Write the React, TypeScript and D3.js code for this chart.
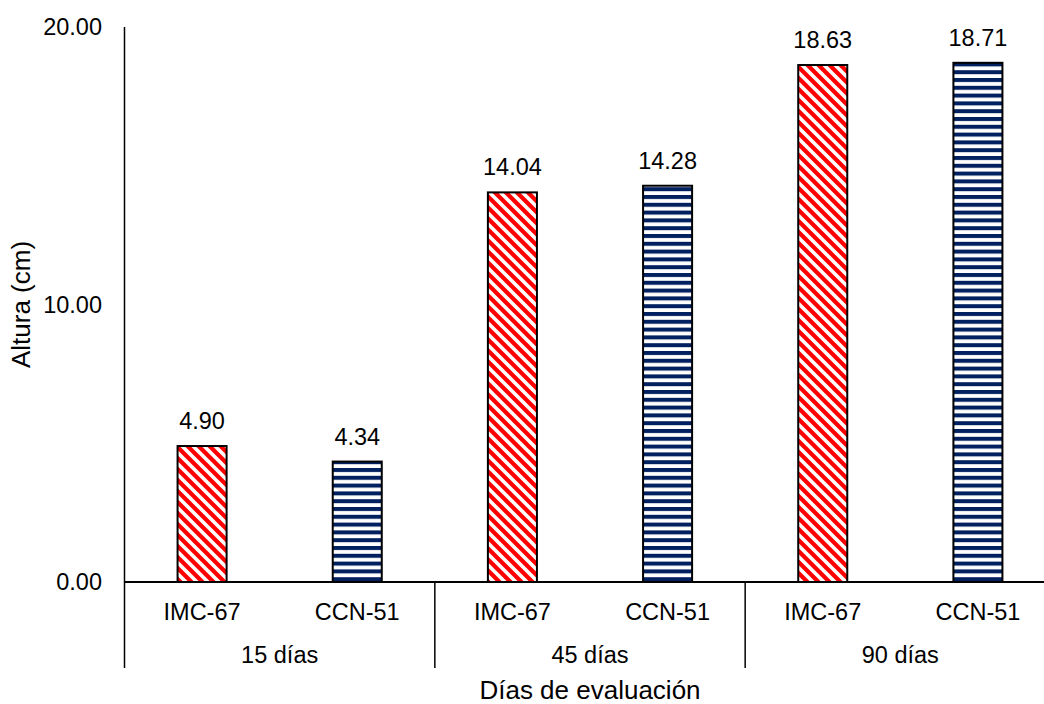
import React from "react";
import * as d3 from "d3";

const groups = ["15 días", "45 días", "90 días"];
const series = ["IMC-67", "CCN-51"];
const imcValues = [4.9, 14.04, 18.63];
const ccnValues = [4.34, 14.28, 18.71];
const yTicks = [0, 10, 20];

const W = 1044;
const H = 704;
const left = 124.5;
const right = 1055.5;
const top = 27;
const bottom = 582;
const axisBottom = 668;
const font = "'Liberation Sans', Arial, sans-serif";

export default function App() {
  const x0 = d3.scaleBand<string>().domain(groups).range([left, right]).padding(0);
  const x1 = d3
    .scaleBand<string>()
    .domain(series)
    .range([0, x0.bandwidth()])
    .paddingInner(0.684)
    .paddingOuter(0.342);
  const y = d3.scaleLinear().domain([0, 20]).range([bottom, top]);
  const valuesBySeries = [imcValues, ccnValues];
  const fills = ["url(#redDiag)", "url(#blueHorz)"];
  const P = 11;

  return (
    <svg
      width={W}
      height={H}
      style={{ position: "absolute", left: 0, top: 0, background: "#fff" }}
      fontFamily={font}
    >
      <defs>
        <pattern id="redDiag" patternUnits="userSpaceOnUse" width={P} height={P}>
          <rect width={P} height={P} fill="#fff" />
          <path
            d={`M${-P / 2},0 L${P},${P * 1.5} M0,${-P / 2} L${P * 1.5},${P} M${-P / 2},${-P} L${P * 2},${P * 1.5}`}
            stroke="#FF0000"
            strokeWidth={4.2}
          />
        </pattern>
        <pattern id="blueHorz" patternUnits="userSpaceOnUse" width={10} height={7.8}>
          <rect width={10} height={7.8} fill="#fff" />
          <rect y={0} width={10} height={4} fill="#002060" />
        </pattern>
      </defs>

      {/* bars */}
      {groups.map((g, gi) =>
        series.map((s, si) => {
          const v = valuesBySeries[si][gi];
          const bx = (x0(g) as number) + (x1(s) as number);
          const bw = x1.bandwidth();
          const by = y(v);
          return (
            <g key={g + s}>
              <rect
                x={bx}
                y={by}
                width={bw}
                height={bottom - by}
                fill={fills[si]}
                stroke="#000"
                strokeWidth={2}
              />
              <text
                x={bx + bw / 2}
                y={by - 17}
                textAnchor="middle"
                fontSize={23.5}
                fill="#000"
              >
                {v.toFixed(2)}
              </text>
            </g>
          );
        })
      )}

      {/* y axis */}
      <line x1={left} x2={left} y1={top} y2={axisBottom} stroke="#000" strokeWidth={1.5} />
      {yTicks.map((t) => (
        <text
          key={t}
          x={102}
          y={y(t)}
          dy="0.35em"
          textAnchor="end"
          fontSize={23.5}
          fill="#000"
        >
          {t.toFixed(2)}
        </text>
      ))}

      {/* x axis */}
      <line x1={left} x2={right} y1={bottom} y2={bottom} stroke="#000" strokeWidth={2} />
      {groups.slice(1).map((g) => (
        <line
          key={g}
          x1={x0(g) as number}
          x2={x0(g) as number}
          y1={bottom}
          y2={axisBottom}
          stroke="#000"
          strokeWidth={1.5}
        />
      ))}
      {groups.map((g) =>
        series.map((s) => (
          <text
            key={g + s + "lbl"}
            x={(x0(g) as number) + (x1(s) as number) + x1.bandwidth() / 2}
            y={620}
            textAnchor="middle"
            fontSize={23.5}
            fill="#000"
          >
            {s}
          </text>
        ))
      )}
      {groups.map((g) => (
        <text
          key={g + "grp"}
          x={(x0(g) as number) + x0.bandwidth() / 2}
          y={663}
          textAnchor="middle"
          fontSize={23.5}
          fill="#000"
        >
          {g}
        </text>
      ))}

      {/* titles */}
      <text
        transform={`translate(30, ${(top + bottom) / 2}) rotate(-90)`}
        textAnchor="middle"
        fontSize={26}
        fill="#000"
      >
        Altura (cm)
      </text>
      <text x={(left + right) / 2} y={699} textAnchor="middle" fontSize={26} fill="#000">
        Días de evaluación
      </text>
    </svg>
  );
}
